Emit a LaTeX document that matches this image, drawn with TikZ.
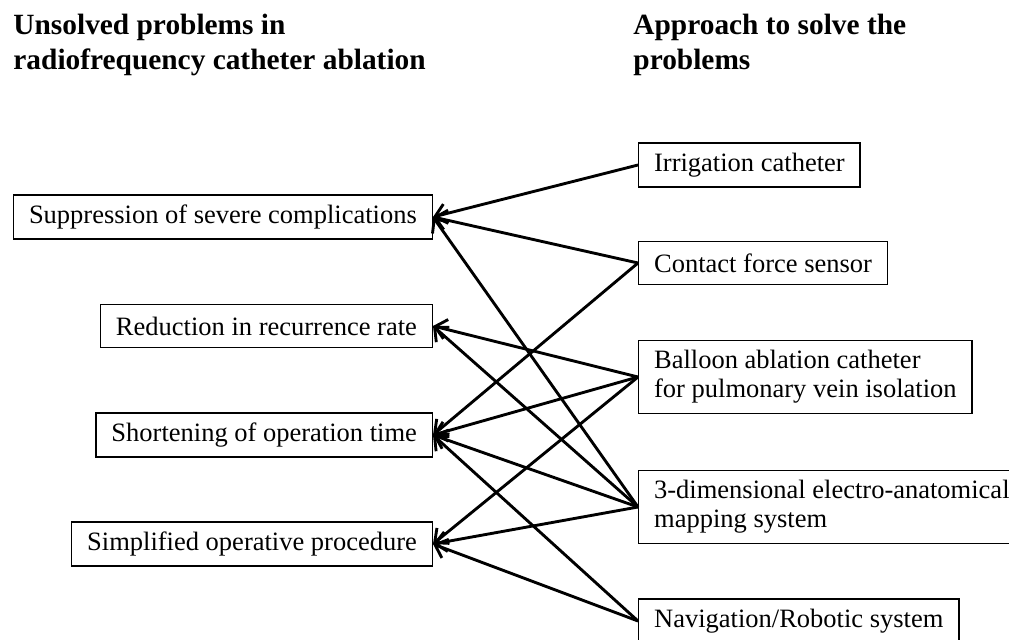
\documentclass[tikz,border=0pt]{standalone}
\usepackage{fontspec}
\setmainfont{Liberation Serif}
\usepackage{tikz}
\usetikzlibrary{arrows.meta}

\begin{document}
\begin{tikzpicture}[
x=0.4528pt,y=-0.4528pt,
>={Straight Barb[length=5pt,width=9pt]},
box/.style={rectangle,draw,line width=0.6pt,fill=white,
inner xsep=7pt,inner ysep=4.5pt,minimum height=19.5pt,
align=left,font=\fontsize{12}{13}\selectfont},
problem/.style={box,anchor=east},
approach/.style={box,anchor=west},
heading/.style={inner sep=0pt,anchor=north west,align=left,
font=\fontsize{13.3}{15.9}\selectfont\bfseries},
link/.style={->,line width=1.3pt}
]
\useasboundingbox (0,0) rectangle (1009,639);
\clip (0,0) rectangle (1009,639);

% headings
\node [heading] (head left)  at (13,14)  {Unsolved problems in\\radiofrequency catheter ablation};
\node [heading] (head right) at (633,14) {Approach to solve the\\problems};

% unsolved problems
\node [problem] (supp)  at (433,217) {Suppression of severe complications};
\node [problem] (redu)  at (433,326) {Reduction in recurrence rate};
\node [problem] (short) at (433,435) {Shortening of operation time};
\node [problem] (simpl) at (433,544) {Simplified operative procedure};

% approaches
\node [approach] (irrig)   at (638,165) {Irrigation catheter};
\node [approach] (force)   at (638,263) {Contact force sensor};
\node [approach] (balloon) at (638,377) {Balloon ablation catheter\\for pulmonary vein isolation};
\node [approach] (mapping) at (638,507) {3-dimensional electro-anatomical\\mapping system};
\node [approach] (navi)    at (638,621) {Navigation/Robotic system};

\begin{scope}[every path/.style=link]
\draw (irrig.west)   -- (supp.east);
\draw (force.west)   -- (supp.east);
\draw (force.west)   -- (short.east);
\draw (balloon.west) -- (redu.east);
\draw (balloon.west) -- (short.east);
\draw (balloon.west) -- (simpl.east);
\draw (mapping.west) -- (supp.east);
\draw (mapping.west) -- (redu.east);
\draw (mapping.west) -- (short.east);
\draw (mapping.west) -- (simpl.east);
\draw (navi.west)    -- (short.east);
\draw (navi.west)    -- (simpl.east);
\end{scope}
\end{tikzpicture}
\end{document}
